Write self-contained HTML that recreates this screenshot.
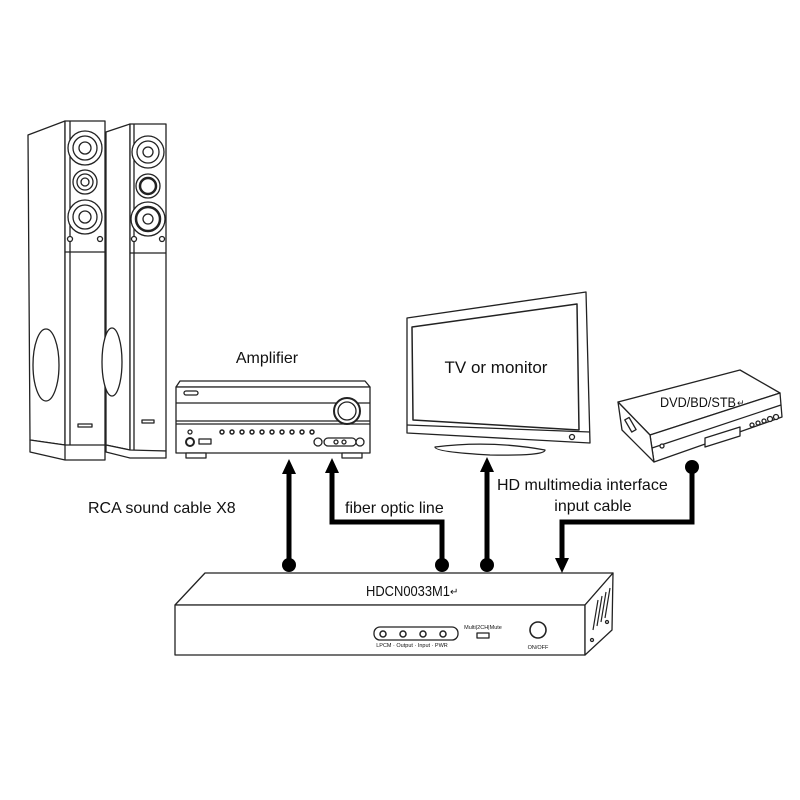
<!DOCTYPE html>
<html><head><meta charset="utf-8"><style>
html,body{margin:0;padding:0;background:#fff;}
svg{display:block;}
text{font-family:"Liberation Sans",sans-serif;fill:#111;}
</style></head><body>
<svg width="800" height="800" viewBox="0 0 800 800" xmlns="http://www.w3.org/2000/svg">
<g fill="#fff" stroke="#222" stroke-width="1.3" stroke-linejoin="round">
<!-- left speaker -->
<polygon points="28,135 65,121 65,445 30,440"/>
<rect x="65" y="121" width="40" height="325"/>
<line x1="70" y1="121" x2="70" y2="445"/>
<line x1="65" y1="252" x2="105" y2="252"/>
<polygon points="30,440 65,445 105,445 105,460 65,460 30,452"/>
<line x1="65" y1="445" x2="65" y2="460"/>
<ellipse cx="46" cy="365" rx="13" ry="36"/>
<rect x="78" y="424" width="14" height="3"/>
<circle cx="85" cy="148" r="17"/><circle cx="85" cy="148" r="12"/><circle cx="85" cy="148" r="6"/>
<circle cx="85" cy="182" r="12"/><circle cx="85" cy="182" r="8"/><circle cx="85" cy="182" r="4"/>
<circle cx="85" cy="217" r="17"/><circle cx="85" cy="217" r="12"/><circle cx="85" cy="217" r="6"/>
<circle cx="70" cy="239" r="2.5"/><circle cx="100" cy="239" r="2.5"/>
<!-- right speaker -->
<polygon points="106,132 130,124 130,450 106,445"/>
<rect x="130" y="124" width="36" height="327"/>
<line x1="134" y1="124" x2="134" y2="450"/>
<line x1="130" y1="253" x2="166" y2="253"/>
<polygon points="106,445 130,450 166,451 166,458 130,458 106,452"/>
<ellipse cx="112" cy="362" rx="10" ry="34"/>
<rect x="142" y="420" width="12" height="3"/>
<circle cx="148" cy="152" r="16"/><circle cx="148" cy="152" r="11"/><circle cx="148" cy="152" r="5"/>
<circle cx="148" cy="186" r="12"/><circle cx="148" cy="186" r="8" stroke-width="2.5"/>
<circle cx="148" cy="219" r="17"/><circle cx="148" cy="219" r="12" stroke-width="2.5"/><circle cx="148" cy="219" r="5"/>
<circle cx="134" cy="239" r="2.5"/><circle cx="162" cy="239" r="2.5"/>
<!-- amplifier -->
<polygon points="180,381 365,381 370,387 176,387"/>
<rect x="176" y="387" width="194" height="66"/>
<line x1="176" y1="403" x2="370" y2="403"/>
<line x1="176" y1="421" x2="370" y2="421"/>
<line x1="176" y1="424" x2="370" y2="424"/>
<rect x="184" y="391" width="14" height="4" rx="2"/>
<circle cx="347" cy="411" r="13" stroke-width="2"/>
<circle cx="347" cy="411" r="9"/>
<rect x="186" y="453" width="20" height="5"/><rect x="342" y="453" width="20" height="5"/>
<circle cx="190" cy="432" r="2"/><circle cx="190" cy="442" r="4" stroke-width="2"/>
<rect x="199" y="439" width="12" height="5"/>
<g stroke-width="1.5"><circle cx="222" cy="432" r="2"/><circle cx="232" cy="432" r="2"/><circle cx="242" cy="432" r="2"/><circle cx="252" cy="432" r="2"/><circle cx="262" cy="432" r="2"/><circle cx="272" cy="432" r="2"/><circle cx="282" cy="432" r="2"/><circle cx="292" cy="432" r="2"/><circle cx="302" cy="432" r="2"/><circle cx="312" cy="432" r="2"/></g>
<circle cx="318" cy="442" r="4"/><rect x="324" y="438" width="32" height="8" rx="4"/>
<circle cx="336" cy="442" r="2"/><circle cx="344" cy="442" r="2"/><circle cx="360" cy="442" r="4"/>
<!-- TV -->
<polygon points="407,318 586,292 590,443 407,433"/>
<polygon points="412,327 577,304 579,430 413,420" stroke-width="1.5"/>
<line x1="407" y1="425" x2="590" y2="432"/>
<circle cx="572" cy="437" r="2.5"/>
<path d="M435,447 Q490,440 545,450 Q545,456 490,455 Q435,452 435,447 Z"/>
<!-- DVD -->
<polygon points="618,402 740,370 780,393 650,435"/>
<polygon points="650,435 780,393 782,417 654,462"/>
<polygon points="618,402 650,435 654,462 622,430"/>
<line x1="652" y1="448" x2="781" y2="405"/>
<rect x="628" y="418" width="5" height="14" transform="rotate(-30 630 425)"/>
<polygon points="705,438 740,427 740,436 705,447"/>
<circle cx="662" cy="446" r="2"/>
<circle cx="752" cy="425" r="2"/><circle cx="758" cy="423" r="2"/><circle cx="764" cy="421" r="2"/><circle cx="770" cy="419" r="2.5"/><circle cx="776" cy="417" r="2.5"/>
<!-- converter box -->
<polygon points="205,573 613,573 585,605 175,605"/>
<polygon points="175,605 585,605 585,655 175,655"/>
<polygon points="585,605 613,573 612,630 585,655"/>
<g stroke-width="1.2">
<line x1="593" y1="630" x2="598" y2="600"/><line x1="597" y1="626" x2="602" y2="596"/><line x1="601" y1="622" x2="606" y2="592"/><line x1="605" y1="618" x2="610" y2="588"/>
</g>
<circle cx="592" cy="640" r="1.5"/><circle cx="607" cy="622" r="1.5"/>
<rect x="374" y="627" width="84" height="13" rx="6"/>
<circle cx="383" cy="634" r="3" stroke-width="1.5"/><circle cx="403" cy="634" r="3" stroke-width="1.5"/><circle cx="423" cy="634" r="3" stroke-width="1.5"/><circle cx="443" cy="634" r="3" stroke-width="1.5"/>
<rect x="477" y="633" width="12" height="5"/>
<circle cx="538" cy="630" r="8" stroke-width="1.6"/>
</g>
<!-- connectors -->
<g fill="none" stroke="#000" stroke-width="5">
<line x1="289" y1="563" x2="289" y2="470"/>
<polyline points="442,563 442,522 332,522 332,470"/>
<line x1="487" y1="563" x2="487" y2="468"/>
<polyline points="692,467 692,522 562,522 562,560"/>
</g>
<g fill="#000">
<polygon points="289,459 282,474 296,474"/>
<polygon points="332,458 325,473 339,473"/>
<polygon points="487,457 480,472 494,472"/>
<polygon points="562,573 555,558 569,558"/>
<circle cx="289" cy="565" r="7"/><circle cx="442" cy="565" r="7"/><circle cx="487" cy="565" r="7"/><circle cx="692" cy="467" r="7"/>
</g>
<!-- labels -->
<text x="267" y="363" font-size="16" text-anchor="middle">Amplifier</text>
<text x="496" y="373" font-size="17" text-anchor="middle">TV or monitor</text>
<text x="88" y="513" font-size="16">RCA sound cable X8</text>
<text x="345" y="513" font-size="16">fiber optic line</text>
<text x="497" y="490" font-size="16">HD multimedia interface</text>
<text x="593" y="511" font-size="16" text-anchor="middle">input cable</text>
<text x="366" y="596" font-size="15" textLength="84" lengthAdjust="spacingAndGlyphs">HDCN0033M1</text><text x="450" y="595" font-size="10">↵</text>
<text x="660" y="407" font-size="14" textLength="76" lengthAdjust="spacingAndGlyphs">DVD/BD/STB</text><text x="737" y="406" font-size="9">↵</text>
<text x="412" y="647" font-size="5.5" text-anchor="middle">LPCM · Output · Input · PWR</text>
<text x="483" y="629" font-size="5.5" text-anchor="middle">Multi|2CH|Mute</text>
<text x="538" y="649" font-size="5.5" text-anchor="middle">ON/OFF</text>
</svg>
</body></html>
